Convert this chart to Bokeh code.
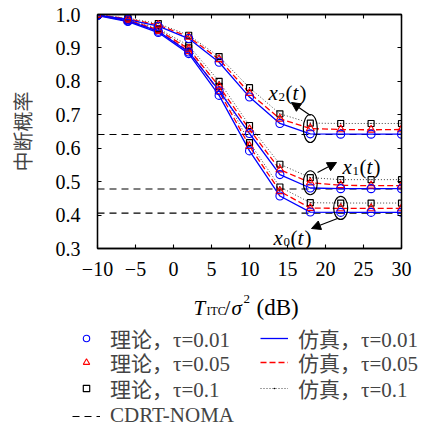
from bokeh.plotting import figure
from bokeh.layouts import column
from bokeh.models import (Range1d, LinearAxis, FixedTicker, Legend, LegendItem,
                          Label, Arrow, NormalHead)
from bokeh.embed import file_html
from bokeh.resources import INLINE

# ---------------- data ----------------
snr_db = [-10, -6, -2, 2, 6, 10, 14, 18, 22, 26, 30]

x2_tau001 = [0.998, 0.985, 0.965, 0.928, 0.857, 0.753, 0.674, 0.643, 0.642, 0.642, 0.642]
x2_tau005 = [0.999, 0.987, 0.969, 0.933, 0.866, 0.765, 0.688, 0.659, 0.656, 0.655, 0.656]
x2_tau01 = [0.999, 0.989, 0.973, 0.938, 0.874, 0.781, 0.703, 0.675, 0.674, 0.674, 0.674]

x1_tau001 = [0.998, 0.981, 0.950, 0.888, 0.772, 0.644, 0.521, 0.481, 0.479, 0.479, 0.479]
x1_tau005 = [0.998, 0.983, 0.954, 0.897, 0.785, 0.656, 0.536, 0.497, 0.489, 0.488, 0.488]
x1_tau01 = [0.999, 0.985, 0.958, 0.907, 0.800, 0.668, 0.552, 0.512, 0.506, 0.506, 0.506]

x0_tau001 = [0.997, 0.979, 0.946, 0.883, 0.758, 0.592, 0.457, 0.409, 0.408, 0.408, 0.408]
x0_tau005 = [0.998, 0.981, 0.950, 0.890, 0.770, 0.606, 0.471, 0.421, 0.420, 0.420, 0.420]
x0_tau01 = [0.999, 0.983, 0.955, 0.900, 0.785, 0.617, 0.484, 0.437, 0.436, 0.436, 0.436]

cdrt_noma = [0.641, 0.478, 0.406]

x_ticks = [-10, -5, 0, 5, 10, 15, 20, 25, 30]
x_tick_labels = ["\u221210", "\u22125", "0", "5", "10", "15", "20", "25", "30"]
y_ticks = [0.3, 0.4, 0.5, 0.6, 0.7, 0.8, 0.9, 1.0]
y_tick_labels = ["0.3", "0.4", "0.5", "0.6", "0.7", "0.8", "0.9", "1.0"]

legend_theory = ["理论，τ=0.01", "理论，τ=0.05", "理论，τ=0.1"]
legend_sim = ["仿真，τ=0.01", "仿真，τ=0.05", "仿真，τ=0.1"]
legend_cdrt = "CDRT-NOMA"
y_label = "中断概率"

# ---------------- layout ----------------
W = 430
H1, H2 = 286, 142
FL, FRt, FT, FBm = 97, 401, 14, 248     # frame edges in page px
X0, X1 = -10, 30
Y0, Y1 = 0.3, 1.0


def px2x(px):
    return X0 + (px - FL) * (X1 - X0) / (FRt - FL)


def py2y(py):
    return Y1 - (py - FT) * (Y1 - Y0) / (FBm - FT)


SERIF = "Liberation Serif"
MIXED = "Liberation Serif, Noto Sans CJK SC"

p = figure(width=W, height=H1, x_range=Range1d(X0, X1), y_range=Range1d(Y0, Y1),
           output_backend="svg", toolbar_location=None,
           min_border_left=FL, min_border_right=W - FRt, min_border_top=FT,
           min_border_bottom=H1 - FBm)
p.frame_align = False
p.xgrid.visible = False
p.ygrid.visible = False
p.outline_line_color = "black"
p.outline_line_width = 1.3
p.background_fill_color = "white"
p.border_fill_color = "white"

xt = FixedTicker(ticks=x_ticks)
yt = FixedTicker(ticks=y_ticks)


def style_axis(ax, ticker, labels, show_labels=True):
    ax.ticker = ticker
    ax.major_tick_in = 4
    ax.major_tick_out = 0
    ax.minor_tick_in = 0
    ax.minor_tick_out = 0
    ax.axis_line_width = 1.3
    ax.major_tick_line_width = 1.1
    ax.major_label_overrides = {t: (l if show_labels else "") for t, l in zip(ticker.ticks, labels)}
    ax.major_label_text_font = SERIF
    ax.major_label_text_font_size = "20px" if show_labels else "1px"
    ax.major_label_text_color = "black"
    if not show_labels:
        ax.major_label_standoff = 0


style_axis(p.xaxis[0], xt, x_tick_labels)
p.xaxis[0].major_label_standoff = 13
style_axis(p.yaxis[0], yt, y_tick_labels)
p.yaxis[0].major_label_standoff = 17
p.yaxis[0].axis_label = y_label
p.yaxis[0].axis_label_text_font = "Noto Sans CJK SC"
p.yaxis[0].axis_label_text_font_size = "20px"
p.yaxis[0].axis_label_text_font_style = "normal"
p.yaxis[0].axis_label_standoff = 16

top_ax = LinearAxis()
style_axis(top_ax, xt, x_tick_labels, show_labels=False)
p.add_layout(top_ax, "above")
right_ax = LinearAxis()
style_axis(right_ax, yt, y_tick_labels, show_labels=False)
p.add_layout(right_ax, "right")

# ---------------- CDRT-NOMA reference lines ----------------
CDRT_STYLE = dict(line_color="black", line_dash="7 5", line_width=1.2)
p.multi_line(xs=[[snr_db[0], snr_db[-1]] for _ in cdrt_noma],
             ys=[[v, v] for v in cdrt_noma], **CDRT_STYLE)

# ---------------- curves ----------------
groups = [
    (x0_tau001, x0_tau005, x0_tau01),
    (x1_tau001, x1_tau005, x1_tau01),
    (x2_tau001, x2_tau005, x2_tau01),
]

SIM_STYLE = [dict(line_color="blue", line_width=1.3),
             dict(line_color="red", line_dash="6 3", line_width=1.3),
             dict(line_color="#444444", line_dash="1 2", line_width=1.0)]
TH_STYLE = [dict(marker="circle", size=8, fill_color=None, line_color="blue", line_width=1.1),
            dict(marker="triangle", size=8, fill_color=None, line_color="red", line_width=1.1),
            dict(marker="square", size=6, fill_color=None, line_color="black", line_width=1.2)]
DOT_STYLE = dict(marker="dot", size=5, line_color="black")

for g in groups:
    a, b, c = g
    p.line(snr_db, c, **SIM_STYLE[2])
    p.scatter(snr_db, c, **DOT_STYLE)
    p.line(snr_db, b, **SIM_STYLE[1])
    p.line(snr_db, a, **SIM_STYLE[0])
    p.scatter(snr_db, c, **TH_STYLE[2])
    p.scatter(snr_db, b, **TH_STYLE[1])
    p.scatter(snr_db, a, **TH_STYLE[0])

# ---------------- ellipses / arrows / labels ----------------
ell_idx = [7, 7, 8]   # x2, x1 groups circled at 18 dB, x0 group at 22 dB
ell_groups = [groups[2], groups[1], groups[0]]
ell_x = [snr_db[i] for i in ell_idx]
ell_y = [sum(s[i] for s in g) / 3 for i, g in zip(ell_idx, ell_groups)]
p.ellipse(x=ell_x, y=ell_y, width=[14, 14, 14], height=[28, 24, 23],
          width_units="screen", height_units="screen",
          fill_color=None, line_color="black", line_width=1.2)

arrows = [((310, 115), (291, 102)), ((317, 172), (336, 162)), ((337, 218), (311, 228))]
for (sx, sy), (ex, ey) in arrows:
    p.add_layout(Arrow(x_start=px2x(sx), y_start=py2y(sy), x_end=px2x(ex), y_end=py2y(ey),
                       line_color="black", line_width=1.2,
                       end=NormalHead(size=9, fill_color="black", line_color="black")))


def lab(fig, x, y, text, size, style="normal"):
    fig.add_layout(Label(x=x, y=y, text=text, text_font=SERIF,
                         text_font_size=f"{size}px", text_font_style=style,
                         text_baseline="alphabetic", text_align="left", text_color="black"))


for L, yb, sub in [(268, 92, "2"), (342, 166, "1"), (273, 237, "0")]:
    lab(p, px2x(L), py2y(yb), "x", 21, "italic")
    lab(p, px2x(L + 10), py2y(yb + 4), sub, 13)
    lab(p, px2x(L + 17), py2y(yb), "(", 21)
    lab(p, px2x(L + 24), py2y(yb), "t", 21, "italic")
    lab(p, px2x(L + 31), py2y(yb), ")", 21)

# ---------------- lower panel: x-axis label and legend ----------------
q = figure(width=W, height=H2, x_range=Range1d(0, W), y_range=Range1d(H1 + H2, H1),
           x_axis_type=None, y_axis_type=None, output_backend="svg", toolbar_location=None,
           min_border_left=0, min_border_right=0, min_border_top=0, min_border_bottom=0)
q.frame_align = False
q.xgrid.visible = False
q.ygrid.visible = False
q.outline_line_color = None
q.background_fill_color = "white"
q.border_fill_color = "white"

# x axis label  T_ITC / sigma^2 (dB), placed in page pixels
XB = 307
lab(q, 193, XB, "T", 21, "italic")
lab(q, 206, XB + 3, "ITC", 12)
lab(q, 224, XB, "/", 21)
lab(q, 231, XB, "σ", 21, "italic")
lab(q, 243, XB - 9, "2", 13)
lab(q, 256, XB, "(dB)", 23)

# legend samples: one data point each, lying outside this panel's view (clipped)
lx, ly = [snr_db[0]], [cdrt_noma[0]]
th_r = [q.scatter(x=lx, y=ly, **TH_STYLE[k]) for k in range(3)]
sim_r = [q.line(x=lx, y=ly, **SIM_STYLE[k]) for k in range(3)]
dot_r = q.scatter(x=lx, y=ly, **DOT_STYLE)
cdrt_r = q.line(x=lx, y=ly, **CDRT_STYLE)

LEG_KW = dict(orientation="horizontal", glyph_width=28, glyph_height=16, label_height=25,
              label_width=150, label_standoff=10, spacing=0, padding=0, margin=0,
              border_line_color=None, background_fill_alpha=0,
              label_text_font=MIXED, label_text_font_size="21px")
row_rows = [75, 51, 25]   # distance of each legend row's bottom above the panel bottom (px)
for k in range(3):
    its = [LegendItem(label=legend_theory[k], renderers=[th_r[k]]),
           LegendItem(label=legend_sim[k], renderers=[sim_r[k]] + ([dot_r] if k == 2 else []))]
    q.add_layout(Legend(items=its, location=(72, row_rows[k]), **LEG_KW), "center")
q.add_layout(Legend(items=[LegendItem(label=legend_cdrt, renderers=[cdrt_r])],
                    location=(72, 0), **LEG_KW), "center")

layout = column(p, q, spacing=0)
open("out.html", "w").write(file_html(layout, INLINE))
